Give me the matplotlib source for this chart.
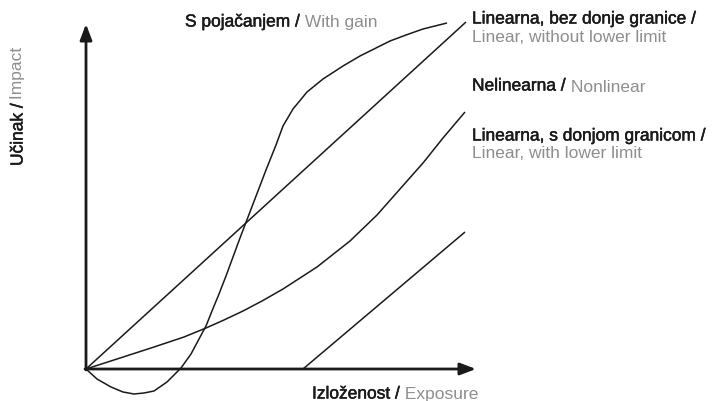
import matplotlib.pyplot as plt
import matplotlib.patheffects as pe

plt.rcParams['font.family'] = ['Liberation Sans', 'DejaVu Sans']

# Vrijednosti ocitane sa slike (izlozenost, ucinak)
lnt_x = [0, 380]
lnt_y = [0, 347]

thr_x = [217, 379]
thr_y = [0, 137]

nonlin_x = [0, 31, 65, 98, 120, 138, 157, 176, 197, 231, 264, 291, 314, 337, 357, 379]
nonlin_y = [0, 10, 21, 32, 41, 49, 58, 68, 80, 102, 128, 154, 180, 206, 231, 257]

gain_x = [0, 11, 25, 37, 48, 58, 68, 81, 95, 105, 113, 120, 126, 133, 140, 154,
          167, 180, 190, 197, 207, 221, 237, 257, 274, 290, 304, 320, 337, 361]
gain_y = [0, -10, -18, -23, -25, -24, -22, -13, 1, 15, 30, 43, 58, 75, 93, 131,
          165, 199, 224, 243, 260, 277, 290, 303, 313, 321, 328, 334, 340, 346]

black = '#1a1a1a'
gray = '#8e8e8e'
fs = 12.5
heavy = [pe.withStroke(linewidth=0.35, foreground=black)]

fig = plt.figure(figsize=(7.12, 4.02), dpi=100)
ax = fig.add_axes([0, 0, 1, 1])
ax.set_xlim(-86, 626)
ax.set_ylim(-32, 370)
ax.axis('off')

line_kw = dict(color=black, lw=1.1, solid_capstyle='butt', solid_joinstyle='round')
ax.plot(lnt_x, lnt_y, **line_kw)
ax.plot(thr_x, thr_y, **line_kw)
ax.plot(nonlin_x, nonlin_y, **line_kw)
ax.plot(gain_x, gain_y, **line_kw)

# osi sa strelicama
arrow = dict(arrowstyle='-|>,head_length=0.95,head_width=0.36', lw=2.0,
             color=black, mutation_scale=10, shrinkA=0, shrinkB=0)
ax.annotate('', xy=(390, 0), xytext=(-1, 0), arrowprops=arrow)
ax.annotate('', xy=(0, 345), xytext=(0, -1), arrowprops=arrow)


def label(x, y, t1, t2):
    a = ax.text(x, y, t1, color=black, fontsize=fs, ha='left', va='center',
                path_effects=heavy)
    ax.annotate(t2, xy=(1, 0), xycoords=a, color=gray, fontsize=fs,
                ha='left', va='bottom')
    return a


def gray_line(x, y, t):
    ax.text(x, y, t, color=gray, fontsize=fs, ha='left', va='center')


label(99, 347, 'S pojačanjem /', ' With gain')
label(386, 350, 'Linearna, bez donje granice /', '')
gray_line(386, 333, 'Linear, without lower limit')
label(386, 283, 'Nelinearna /', ' Nonlinear')
label(386, 233, 'Linearna, s donjom granicom /', '')
gray_line(386, 216, 'Linear, with lower limit')
label(226, -25, 'Izloženost /', ' Exposure')

# y os natpis
yl = ax.text(-68, 203, 'Učinak /', color=black, fontsize=fs, rotation=90,
             ha='center', va='bottom', path_effects=heavy)
ax.annotate(' Impact', xy=(0.5, 1), xycoords=yl, color=gray, fontsize=fs,
            rotation=90, ha='center', va='bottom')

fig.savefig('out.png', dpi=100)
